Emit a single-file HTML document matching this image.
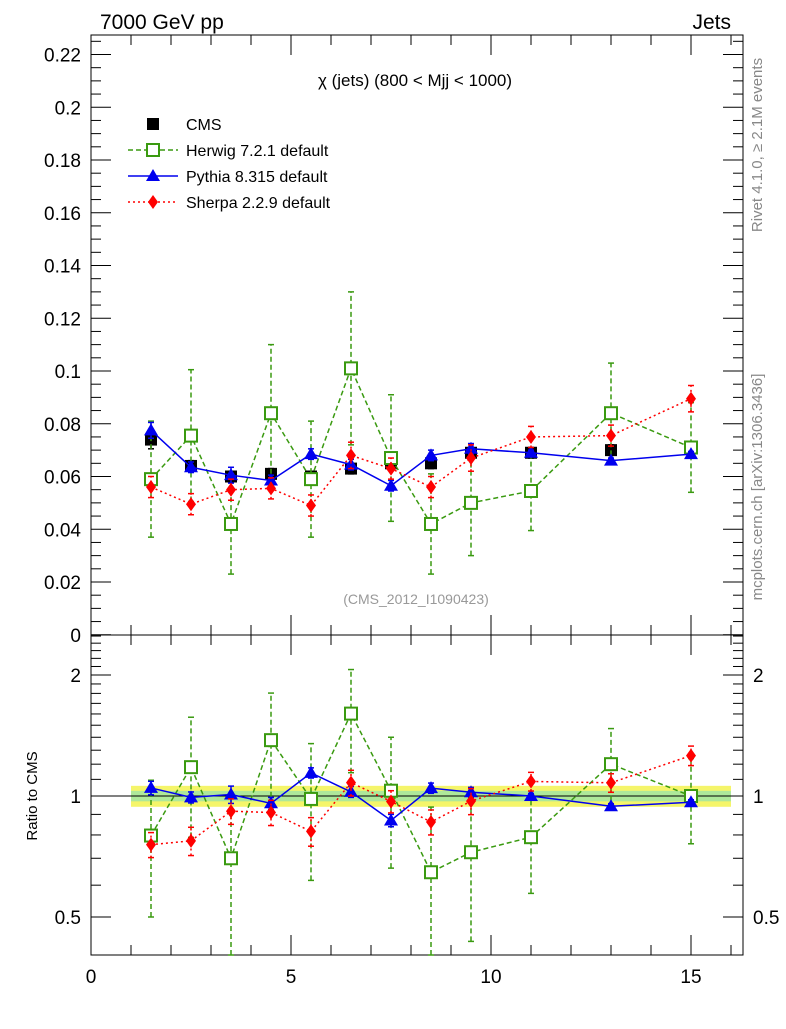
<!DOCTYPE html>
<html><head><meta charset="utf-8"><style>
body{margin:0;background:#fff}
svg text{font-family:"Liberation Sans",sans-serif}
</style></head><body>
<svg id="c" width="786" height="1024" xmlns="http://www.w3.org/2000/svg"></svg>
<script>
const xs=[1.5,2.5,3.5,4.5,5.5,6.5,7.5,8.5,9.5,11,13,15];
const cms=[0.074,0.064,0.060,0.061,0.060,0.063,0.065,0.065,0.069,0.069,0.070,0.071];
const cmsErr=[0.0035,0.002,0.002,0.002,0.002,0.002,0.002,0.002,0.002,0.002,0.002,0.002];
const herwig=[0.059,0.0755,0.042,0.084,0.059,0.101,0.067,0.042,0.050,0.0545,0.084,0.071];
const herwigErr=[0.022,0.025,0.019,0.026,0.022,0.029,0.024,0.019,0.020,0.015,0.019,0.017];
const pythia=[0.0775,0.0635,0.0605,0.0585,0.0685,0.0645,0.0565,0.068,0.0705,0.069,0.066,0.0685];
const pythiaErr=[0.003,0.002,0.003,0.002,0.002,0.002,0.002,0.002,0.002,0.001,0.001,0.001];
const sherpa=[0.056,0.0495,0.055,0.0555,0.049,0.068,0.063,0.056,0.067,0.075,0.0755,0.0895];
const sherpaErr=[0.004,0.004,0.004,0.004,0.004,0.005,0.004,0.004,0.005,0.004,0.004,0.005];
const yTicks=[0,0.02,0.04,0.06,0.08,0.1,0.12,0.14,0.16,0.18,0.2,0.22];
const xTicks=[0,5,10,15];
const rTicks=[0.5,1,2];

const svg=document.getElementById('c');
const NS='http://www.w3.org/2000/svg';
const L=91,R=743,T=35,M=635,B=955;
const X=v=>L+v*40;
const Y=v=>634.75-v*2637.5;
const RY=v=>Math.min(B,796-Math.log2(v)*121);
function el(t,a,p){const e=document.createElementNS(NS,t);for(const k in a)e.setAttribute(k,a[k]);(p||svg).appendChild(e);return e;}
function txt(s,x,y,a,p){const e=el('text',Object.assign({x:x,y:y},a),p);e.textContent=s;return e;}

let g=el('g',{});


el('rect',{x:L,y:T,width:R-L,height:M-T,fill:'none',stroke:'#000','stroke-width':1},g);
g=el('g',{});


el('rect',{x:L,y:M,width:R-L,height:B-M,fill:'none',stroke:'#000','stroke-width':1},g);

const band=el('g',{});


el('rect',{x:X(1),y:RY(1.06),width:X(16)-X(1),height:RY(0.94)-RY(1.06),fill:'#f5f56a'},band);
el('rect',{x:X(1),y:RY(1.03),width:X(16)-X(1),height:RY(0.97)-RY(1.03),fill:'#aee89a'},band);
el('line',{x1:L,x2:R,y1:RY(1),y2:RY(1),stroke:'#000','stroke-width':1},band);

const ax=el('g',{stroke:'#000','stroke-width':1});


for(let v=0;v<=0.2251;v+=0.005){const y=Y(v);if(y<T)continue;const maj=Math.abs(v/0.02-Math.round(v/0.02))<1e-6;const w=maj?20:10;
 el('line',{x1:L,x2:L+w,y1:y,y2:y},ax);el('line',{x1:R,x2:R-w,y1:y,y2:y},ax);}
for(let v=0;v<=16;v++){const maj=v%5==0;const w=maj?20:10;
 [M,B].forEach(b=>el('line',{x1:X(v),x2:X(v),y1:b,y2:b-w},ax));
 el('line',{x1:X(v),x2:X(v),y1:T,y2:T+w},ax);el('line',{x1:X(v),x2:X(v),y1:M,y2:M+w},ax);}
for(let v=0.5;v<=2.51;v+=0.1){const y=RY(v);if(y<M||y>=B)continue;const maj=rTicks.some(t=>Math.abs(t-v)<1e-6);const w=maj?20:10;
 el('line',{x1:L,x2:L+w,y1:y,y2:y},ax);el('line',{x1:R,x2:R-w,y1:y,y2:y},ax);}
yTicks.forEach(v=>{const t=txt(v===0?'0':String(v),L-10,Y(v)+7,{'font-size':19,'text-anchor':'end'});
 });
xTicks.forEach(v=>{const t=txt(String(v),X(v),B+28,{'font-size':19,'text-anchor':'middle'});
 });
rTicks.forEach(v=>{[[L-10,'end'],[R+10,'start']].forEach(([x,a])=>{const t=txt(String(v),x,RY(v)+7,{'font-size':19,'text-anchor':a,fill:'#000'});
 });});

function marker(type,x,y,c,p){
 if(type=='sq')el('rect',{x:x-6,y:y-6,width:12,height:12,fill:'#000'},p);
 if(type=='osq')el('rect',{x:x-6,y:y-6,width:12,height:12,fill:'#fff',stroke:c,'stroke-width':2},p);
 if(type=='tri')el('path',{d:`M${x} ${y-7}L${x+7} ${y+5}L${x-7} ${y+5}Z`,fill:c},p);
 if(type=='dia')el('path',{d:`M${x} ${y-7}L${x+5} ${y}L${x} ${y+7}L${x-5} ${y}Z`,fill:c},p);}
function series(name,vals,errs,c,dash,type,yf,ratio,line){
 const g=el('g',{});
 
 
 const v=vals.map((a,i)=>ratio?a/cms[i]:a), e=errs.map((a,i)=>ratio?a/cms[i]:a);
 const lo=ratio?0.3:0;
 if(line)el('polyline',{points:xs.map((x,i)=>X(x)+','+yf(v[i])).join(' '),fill:'none',stroke:c,'stroke-width':1.5,'stroke-dasharray':dash},g);
 xs.forEach((x,i)=>{const y1=yf(Math.max(v[i]-e[i],lo)),y2=yf(v[i]+e[i]);
  el('line',{x1:X(x),x2:X(x),y1:y1,y2:y2,stroke:c,'stroke-width':1.5,'stroke-dasharray':dash},g);
  el('line',{x1:X(x)-3,x2:X(x)+3,y1:y1,y2:y1,stroke:c,'stroke-width':1.5},g);
  el('line',{x1:X(x)-3,x2:X(x)+3,y1:y2,y2:y2,stroke:c,'stroke-width':1.5},g);
  marker(type,X(x),yf(v[i]),c,g);});
}
series('cms-data',cms,cmsErr,'#000','','sq',Y,false,false);
series('herwig-series',herwig,herwigErr,'#3a9a10','5,3','osq',Y,false,true);
series('pythia-series',pythia,pythiaErr,'#0000ee','','tri',Y,false,true);
series('sherpa-series',sherpa,sherpaErr,'#ff0000','2,3','dia',Y,false,true);
series('herwig-ratio',herwig,herwigErr,'#3a9a10','5,3','osq',RY,true,true);
series('pythia-ratio',pythia,pythiaErr,'#0000ee','','tri',RY,true,true);
series('sherpa-ratio',sherpa,sherpaErr,'#ff0000','2,3','dia',RY,true,true);

const lg=el('g',{});


[['CMS','#000','','sq',124],['Herwig 7.2.1 default','#3a9a10','5,3','osq',150],['Pythia 8.315 default','#0000ee','','tri',176],['Sherpa 2.2.9 default','#ff0000','2,3','dia',202]].forEach(([n,c,d,t,y])=>{
 if(n!='CMS'){el('line',{x1:128,x2:178,y1:y,y2:y,stroke:c,'stroke-width':1.5,'stroke-dasharray':d},lg);}
 marker(t,153,y,c,lg);txt(n,186,y+6,{'font-size':16},lg);});

let t;
t=txt('χ (jets) (800 < Mjj < 1000)',415,86,{'font-size':17,'text-anchor':'middle'});
t=txt('7000 GeV pp',100,29,{'font-size':21});
t=txt('Jets',731,29,{'font-size':21,'text-anchor':'end'});
t=txt('(CMS_2012_I1090423)',416,604,{'font-size':14,'text-anchor':'middle',fill:'#999'});
t=txt('Ratio to CMS',37,796,{'font-size':15,'text-anchor':'middle',transform:'rotate(-90 37 796)'});
t=txt('Rivet 4.1.0, ≥ 2.1M events',762,145,{'font-size':15,'text-anchor':'middle',fill:'#888',transform:'rotate(-90 762 145)'});
t=txt('mcplots.cern.ch [arXiv:1306.3436]',762,487,{'font-size':15,'text-anchor':'middle',fill:'#888',transform:'rotate(-90 762 487)'});
</script>
</body></html>
